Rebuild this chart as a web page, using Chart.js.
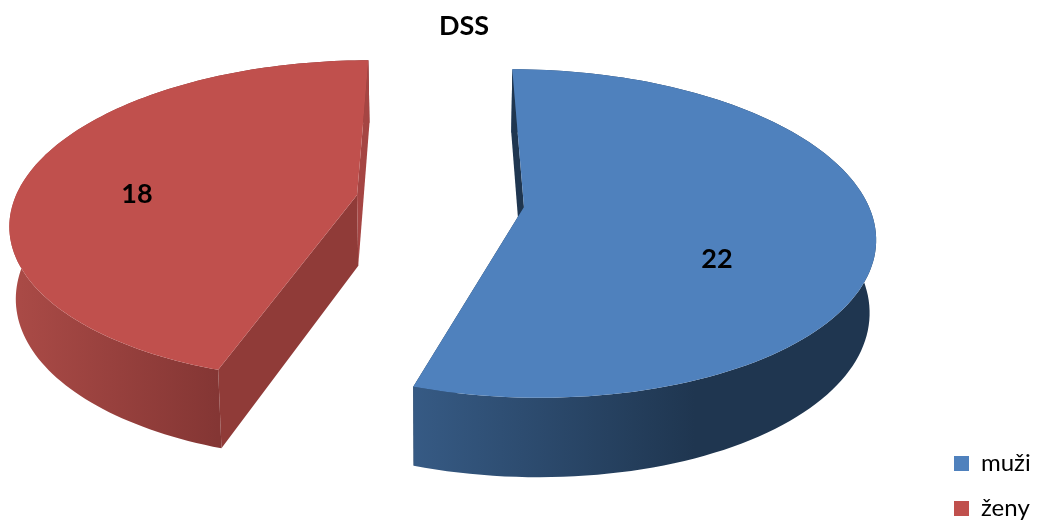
<!DOCTYPE html>
<html>
<head>
<meta charset="utf-8">
<title>DSS</title>
<script src="https://cdn.jsdelivr.net/npm/chart.js@4"></script>
<style>
  html, body { margin: 0; background: #fff; }
  canvas { display: block; }
</style>
</head>
<body>
<canvas id="pie" width="1038" height="523"></canvas>
<script>
const chartTitle = 'DSS';
const categories = ['muži', 'ženy'];
const values = [22, 18];
const topColors = ['#4f81bd', '#c0504d'];

// 3D look of the slices, Chart.js has no 3D pie so the arcs get projected by hand
const centerX = 440, centerY = 201;
const radiusX = 343, radiusY = 158;
const perspective = 0.16;
const explode = 84.5;          // how far each slice is pulled from the middle
const depth = 71;
const labelPos = [[717, 259], [137, 194]];

const wallShade = [
  { from: '#365a84', to: '#1f3650', x0: 415, x1: 695, first: '#1f3650', last: '#1f3650' },
  { from: '#ab4b47', to: '#843634', x0: 10, x1: 218, first: '#903b38', last: '#a54543' }
];

function project(x, z, h) {
  const s = 1 / (1 - perspective * z);
  const shrink = 1 - 0.015 * h;
  return [
    centerX + x * s * shrink,
    centerY + radiusY * z * s + h * depth * (1 + 0.115 * z)
  ];
}

function polygon(ctx, pts, fill) {
  ctx.beginPath();
  pts.forEach((p, i) => i ? ctx.lineTo(p[0], p[1]) : ctx.moveTo(p[0], p[1]));
  ctx.closePath();
  ctx.fillStyle = fill;
  ctx.fill();
}

function drawSlice(ctx, arc, i) {
  const a0 = arc.startAngle + Math.PI / 2;
  const a1 = arc.endAngle + Math.PI / 2;
  const mid = (a0 + a1) / 2;
  const ax = Math.sin(mid) * explode;
  const az = -Math.cos(mid) * 0.245;

  const rim = a => [ax + radiusX * Math.sin(a), az - Math.cos(a)];
  const at = (p, h) => project(p[0], p[1], h);
  const apex = [ax, az];
  const steps = 120;
  const topRim = [], lowRim = [];
  for (let n = 0; n <= steps; n++) {
    const p = rim(a0 + (a1 - a0) * n / steps);
    topRim.push(at(p, 0));
    lowRim.push(at(p, 1));
  }
  const shade = wallShade[i];

  const startFace = [at(apex, 0), topRim[0], lowRim[0], at(apex, 1)];
  const endFace = [at(apex, 0), topRim[steps], lowRim[steps], at(apex, 1)];
  const startIsBack = Math.cos(a0) > 0;
  const endIsBack = Math.cos(a1) > 0;

  // a cut face at the back sits over the round side, one at the front under it
  if (!startIsBack) polygon(ctx, startFace, shade.first);
  if (!endIsBack) polygon(ctx, endFace, shade.last);

  const grad = ctx.createLinearGradient(shade.x0, 0, shade.x1, 0);
  grad.addColorStop(0, shade.from);
  grad.addColorStop(1, shade.to);
  polygon(ctx, topRim.concat(lowRim.slice().reverse()), grad);

  if (startIsBack) polygon(ctx, startFace, shade.first);
  if (endIsBack) polygon(ctx, endFace, shade.last);

  // top face
  polygon(ctx, [at(apex, 0)].concat(topRim), arc.options.backgroundColor);
}

const pie3d = {
  id: 'pie3d',
  beforeDraw(chart) {
    // title sits over the plot, legend in the bottom right corner
    chart.titleBlock.left = 0;
    chart.titleBlock.right = 928;
    chart.legend.left = 954 - chart.options.plugins.legend.labels.padding;
    chart.legend.bottom = 541.5;
  },
  beforeDatasetDraw(chart, args) {
    const ctx = chart.ctx;
    const arcs = chart.getDatasetMeta(args.index).data;
    ctx.save();
    arcs.forEach((arc, i) => drawSlice(ctx, arc, i));
    ctx.font = 'bold 27px Lato';
    ctx.fillStyle = '#000';
    ctx.textAlign = 'center';
    ctx.textBaseline = 'middle';
    values.forEach((v, i) => ctx.fillText(String(v), labelPos[i][0], labelPos[i][1]));
    ctx.restore();
    return false;
  }
};

new Chart(document.getElementById('pie'), {
  type: 'pie',
  data: {
    labels: categories,
    datasets: [{ data: values, backgroundColor: topColors, borderWidth: 0 }]
  },
  options: {
    responsive: false,
    animation: false,
    devicePixelRatio: 1,
    plugins: {
      title: {
        display: true,
        text: chartTitle,
        fullSize: false,
        color: '#000',
        font: { family: 'Lato', size: 27, weight: 'bold' },
        padding: { top: 10, bottom: 10 }
      },
      legend: {
        position: 'right',
        align: 'end',
        labels: {
          boxWidth: 15,
          boxHeight: 15,
          padding: 21,
          color: '#000',
          font: { family: 'Lato', size: 24 }
        }
      },
      tooltip: { enabled: false }
    }
  },
  plugins: [pie3d]
});
</script>
</body>
</html>
